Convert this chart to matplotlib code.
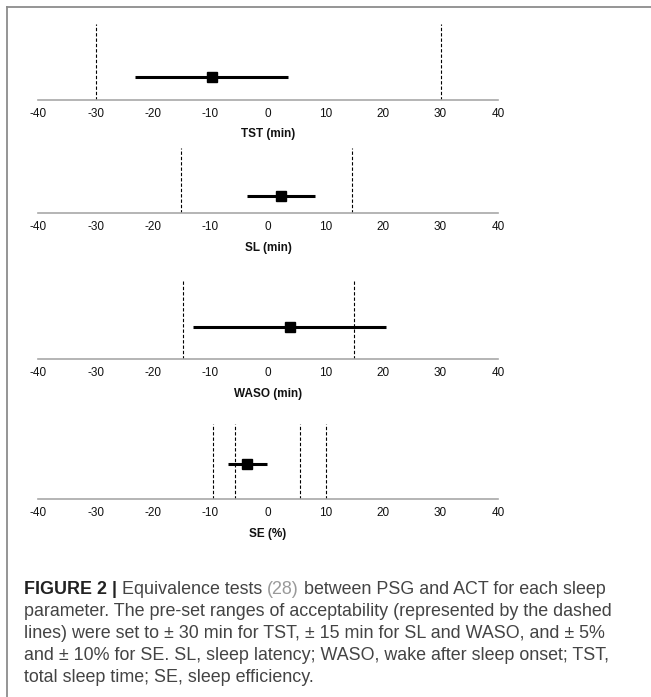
import numpy as np
import matplotlib
matplotlib.use("Agg")
import matplotlib.pyplot as plt
from matplotlib.lines import Line2D

# Equivalence test results (mean difference ACT - PSG with 90% CI)
params = ["TST (min)", "SL (min)", "WASO (min)", "SE (%)"]
mean_diff = [-9.7, 2.3, 3.9, -3.7]
ci_low = [-23.1, -3.6, -13.1, -7.0]
ci_high = [3.4, 8.2, 20.6, -0.2]
# acceptability limits (dashed lines)
limits = [[-30, 30], [-15.2, 14.6], [-14.7, 14.9], [-9.5, -5.7, 5.5, 10.1]]
xticks = [-40, -30, -20, -10, 0, 10, 20, 30, 40]

W, H = 651, 697
fig = plt.figure(figsize=(W / 100, H / 100), dpi=100)

# layout in pixels: (axis line y, top of dashed lines, y of estimate)
layout = [(99.5, 24, 77), (213, 148, 196), (359, 281, 327), (499, 424, 464)]
x0, x1 = 38, 498

for i, name in enumerate(params):
    yb, yt, ym = layout[i]
    ax = fig.add_axes([x0 / W, 1 - yb / H, (x1 - x0) / W, (yb - yt) / H])
    ax.set_xlim(-40, 40)
    ax.set_ylim(0, 1)
    yy = (yb - ym) / (yb - yt)
    for lim in limits[i]:
        ax.axvline(lim, 0, 1, color="black", lw=0.8, ls=(0, (3, 1.8)))
    ax.plot([ci_low[i], ci_high[i]], [yy, yy], color="black", lw=2.2,
            solid_capstyle="butt")
    ax.plot(mean_diff[i], yy, marker="s", color="black", ms=6.5)
    for s in ["top", "left", "right"]:
        ax.spines[s].set_visible(False)
    ax.spines["bottom"].set_color("#a8a8a8")
    ax.spines["bottom"].set_linewidth(1.2)
    ax.set_yticks([])
    ax.set_xticks(xticks)
    ax.set_xticklabels([str(t) for t in xticks], fontsize=8.5, family="Liberation Sans")
    ax.tick_params(axis="x", length=0, pad=6, colors="#111111")
    ax.set_xlabel(name, fontsize=8.5, fontweight="bold", family="Liberation Sans",
                  labelpad=6, color="#111111")

# frame around the figure panel
fig.add_artist(Line2D([7 / W, 7 / W], [0, 1 - 7 / H], color="#8c8c8c", lw=1.3))
fig.add_artist(Line2D([7 / W, 1], [1 - 7 / H, 1 - 7 / H], color="#8c8c8c", lw=1.3))

# caption
lines = [
    None,
    "parameter. The pre-set ranges of acceptability (represented by the dashed",
    "lines) were set to \u00b1 30 min for TST, \u00b1 15 min for SL and WASO, and \u00b1 5%",
    "and \u00b1 10% for SE. SL, sleep latency; WASO, wake after sleep onset; TST,",
    "total sleep time; SE, sleep efficiency.",
]
ys = [590, 612, 634, 656, 678]
cx = 24
cap_family = "Liberation Sans"
fig.canvas.draw()
r = fig.canvas.get_renderer()

# fit font size so the second caption line spans ~590 px
probe = fig.text(0, 0, lines[1], family=cap_family, fontsize=10)
w10 = probe.get_window_extent(renderer=r).width
probe.remove()
fs = 10 * 590 / w10
cap_col = "#444444"

pieces = [("FIGURE 2 | ", "bold", "#222222"), ("Equivalence tests ", "normal", cap_col),
          ("(28)", "normal", "#9a9a9a"),
          (" between PSG and ACT for each sleep", "normal", cap_col)]
x = cx
for txt, wgt, col in pieces:
    t = fig.text(x / W, 1 - ys[0] / H, txt, family=cap_family, fontsize=fs,
                 fontweight=wgt, color=col, va="center")
    x += t.get_window_extent(renderer=r).width
for k in range(1, 5):
    fig.text(cx / W, 1 - ys[k] / H, lines[k], family=cap_family,
             fontsize=fs, color=cap_col, va="center")

fig.savefig("out.png", dpi=100)
